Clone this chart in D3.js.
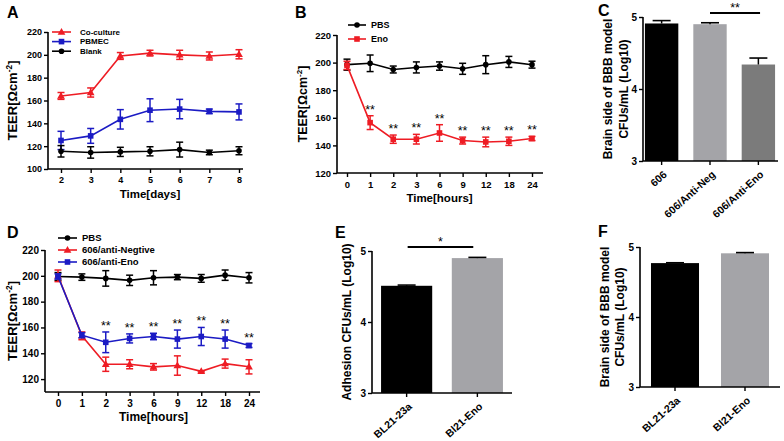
<!DOCTYPE html>
<html><head><meta charset="utf-8">
<script src="https://cdn.jsdelivr.net/npm/d3@7"></script>
<style>
body{margin:0;background:#fff;}
svg{display:block;font-family:"Liberation Sans",Arial,sans-serif;font-weight:bold;}
</style></head>
<body>
<svg id="c" width="784" height="441"></svg>
<script>
// ---------- DATA ----------
const daysA = ["2","3","4","5","6","7","8"];
const coCulture = [164,167,199,201.5,200,199,200.5];
const coCultureErr = [3,4,3,2.5,4,3.5,4];
const pbmec = [125,129,143.5,151.5,152.5,150.5,150];
const pbmecErr = [8,6.5,8.5,10,8.5,2,7];
const blank = [115.5,114.5,115,115.5,117,114.5,116];
const blankErr = [5,5,4,4,6.5,2,3.5];

const hours = ["0","1","2","3","6","9","12","18","24"];
const pbsB = [198.5,199.5,195,196.5,197.5,195.5,198.5,200.5,198.5];
const pbsBErr = [4,6,2.5,4,3,4,6.5,4,2.5];
const enoB = [198,156.5,144.5,144.5,149,143.5,142.5,143,145];
const enoBErr = [3,5,3,3.5,6,2.5,3.5,3,1.5];
const starsB = ["","**","**","**","**","**","**","**","**"];

const pbsD = [199.5,199,198,196.5,198.5,199,198,200.5,198.5];
const pbsDErr = [3,2.5,6,4,5.5,2,3,4,4];
const negD = [200,153.5,131.5,131.5,129.5,130.5,126,132,129.5];
const negDErr = [4.5,3,5.5,3.5,2.5,7.5,0.5,3.5,5.5];
const enoD = [199.5,154,148.5,151.5,153,151,153,151,146];
const enoDErr = [2,2,8,3.5,2.5,7,7,7,1.5];
const starsD = ["","","**","**","**","**","**","**","**"];

const catsC = ["606","606/Anti-Neg","606/Anti-Eno"];
const valsC = [4.91,4.90,4.34];
const errC = [0.04,0.02,0.09];
const catsE = ["BL21-23a","Bl21-Eno"];
const valsE = [4.51,4.90];
const errE = [0.01,0.01];
const catsF = ["BL21-23a","Bl21-Eno"];
const valsF = [4.77,4.91];
const errF = [0.005,0.01];
const ticksTEER_A = [100,120,140,160,180,200,220];
const ticksTEER_BD = [120,140,160,180,200,220];
const ticksLog = [3,4,5];

const RED="#ee1c24", BLUE="#1b1bc4", BLACK="#000", GRAY1="#a4a4a8", GRAY2="#7b7b7b";

const svg = d3.select("#c");

function panelLetter(t,x,y){
  svg.append("text").attr("x",x).attr("y",y).attr("font-size",16).text(t);
}
function teerLabel(x,y,fs){
  const t = svg.append("text").attr("transform",`translate(${x},${y}) rotate(-90)`)
    .attr("text-anchor","middle").attr("font-size",fs);
  t.append("tspan").text("TEER[Ωcm");
  t.append("tspan").attr("dy",-5).attr("font-size",fs*0.65).text("-2");
  t.append("tspan").attr("dy",5).text("]");
}

function marker(g,shape,x,y,color){
  if(shape==="circle") g.append("circle").attr("cx",x).attr("cy",y).attr("r",2.8).attr("fill",color);
  else if(shape==="square") g.append("rect").attr("x",x-2.8).attr("y",y-2.8).attr("width",5.6).attr("height",5.6).attr("fill",color);
  else g.append("path").attr("d",d3.symbol(d3.symbolTriangle,26)()).attr("transform",`translate(${x},${y+0.5})`).attr("fill",color);
}

function linePanel(o){
  const x = d3.scalePoint().domain(o.cats).range(o.xr);
  const y = d3.scaleLinear().domain(o.yd).range(o.yr);
  const g = svg.append("g");
  g.append("line").attr("x1",o.left).attr("x2",o.right).attr("y1",o.yr[0]).attr("y2",o.yr[0]).attr("stroke","#000").attr("stroke-width",1.6);
  g.append("line").attr("x1",o.left).attr("x2",o.left).attr("y1",o.yr[0]).attr("y2",y(o.yticks[o.yticks.length-1])).attr("stroke","#000").attr("stroke-width",1.6);
  const xa = g.append("g").attr("transform",`translate(0,${o.yr[0]})`)
    .call(d3.axisBottom(x).tickSize(4).tickPadding(4));
  xa.select(".domain").remove();
  xa.selectAll("line").attr("stroke-width",1.4);
  xa.selectAll("text").attr("font-size",o.fs.tick).attr("font-family","Liberation Sans, Arial").attr("font-weight","bold");
  const ya = g.append("g").attr("transform",`translate(${o.left},0)`)
    .call(d3.axisLeft(y).tickValues(o.yticks).tickSize(4).tickPadding(2));
  ya.select(".domain").remove();
  ya.selectAll("line").attr("stroke-width",1.4);
  ya.selectAll("text").attr("font-size",o.fs.tick).attr("font-family","Liberation Sans, Arial").attr("font-weight","bold");
  o.series.forEach(s=>{
    const line = d3.line().x((d,i)=>x(o.cats[i])).y(d=>y(d));
    g.append("path").attr("d",line(s.v)).attr("fill","none").attr("stroke",s.c).attr("stroke-width",1.6);
    s.v.forEach((v,i)=>{
      const cx=x(o.cats[i]); const e=s.e[i];
      g.append("line").attr("x1",cx).attr("x2",cx).attr("y1",y(v-e)).attr("y2",y(v+e)).attr("stroke",s.c).attr("stroke-width",1.5);
      [v-e,v+e].forEach(w=>g.append("line").attr("x1",cx-3.5).attr("x2",cx+3.5).attr("y1",y(w)).attr("y2",y(w)).attr("stroke",s.c).attr("stroke-width",1.5));
      marker(g,s.m,cx,y(v),s.c);
      if(s.stars && s.stars[i]) g.append("text").attr("x",cx).attr("y",y(v+e)-2).attr("text-anchor","middle").attr("font-size",12.5).attr("font-weight","normal").text(s.stars[i]);
    });
  });
  o.legend.forEach((s,i)=>{
    const ly = o.leg.y + i*o.leg.dy;
    g.append("line").attr("x1",o.leg.x1).attr("x2",o.leg.x2).attr("y1",ly).attr("y2",ly).attr("stroke",s.c).attr("stroke-width",1.6);
    marker(g,s.m,(o.leg.x1+o.leg.x2)/2,ly,s.c);
    g.append("text").attr("x",o.leg.tx).attr("y",ly+o.fs.leg*0.36).attr("font-size",o.fs.leg).text(s.name);
  });
  svg.append("text").attr("x",(o.xr[0]+o.xr[1])/2).attr("y",o.yr[0]+29).attr("text-anchor","middle").attr("font-size",o.fs.xt).text(o.xtitle);
  teerLabel(o.ytx,(o.yr[0]+y(o.yticks[o.yticks.length-1]))/2,o.fs.yt);
}

function barPanel(o){
  const x = d3.scaleBand().domain(o.cats).range(o.xr).paddingInner(o.pi).paddingOuter(o.po);
  const y = d3.scaleLinear().domain([3,5]).range(o.yr);
  const g = svg.append("g");
  o.vals.forEach((v,i)=>{
    const bx=x(o.cats[i]), bw=x.bandwidth(), cx=bx+bw/2;
    g.append("rect").attr("x",bx).attr("y",y(v)).attr("width",bw).attr("height",y(3)-y(v)).attr("fill",o.colors[i]);
    g.append("line").attr("x1",cx).attr("x2",cx).attr("y1",y(v)).attr("y2",y(v+o.err[i])).attr("stroke","#000").attr("stroke-width",1.5);
    g.append("line").attr("x1",cx-o.cap).attr("x2",cx+o.cap).attr("y1",y(v+o.err[i])).attr("y2",y(v+o.err[i])).attr("stroke","#000").attr("stroke-width",1.6);
    g.append("text").attr("transform",`translate(${cx+1},${o.yr[0]+9}) rotate(-42)`).attr("text-anchor","end").attr("dy","0.7em").attr("font-size",10.5).text(o.cats[i]);
    g.append("line").attr("x1",cx).attr("x2",cx).attr("y1",o.yr[0]).attr("y2",o.yr[0]+4).attr("stroke","#000").attr("stroke-width",1.4);
  });
  g.append("line").attr("x1",o.left).attr("x2",o.right).attr("y1",o.yr[0]).attr("y2",o.yr[0]).attr("stroke","#000").attr("stroke-width",1.6);
  g.append("line").attr("x1",o.left).attr("x2",o.left).attr("y1",o.yr[0]).attr("y2",o.yr[1]).attr("stroke","#000").attr("stroke-width",1.6);
  const ya = g.append("g").attr("transform",`translate(${o.left},0)`)
    .call(d3.axisLeft(y).tickValues(ticksLog).tickFormat(d3.format("d")).tickSize(4).tickPadding(2));
  ya.select(".domain").remove();
  ya.selectAll("line").attr("stroke-width",1.4);
  ya.selectAll("text").attr("font-size",10).attr("font-family","Liberation Sans, Arial").attr("font-weight","bold");
  const cy=(o.yr[0]+o.yr[1])/2;
  o.ytitle.forEach((t,i)=>{
    svg.append("text").attr("transform",`translate(${o.ytx[i]},${cy}) rotate(-90)`).attr("text-anchor","middle").attr("dy","0.35em").attr("font-size",12).text(t);
  });
  if(o.sig){
    const a=x(o.cats[o.sig.a])+x.bandwidth()*o.sig.fa, b=x(o.cats[o.sig.b])+x.bandwidth()*o.sig.fb;
    g.append("line").attr("x1",a).attr("x2",b).attr("y1",o.sig.y).attr("y2",o.sig.y).attr("stroke","#000").attr("stroke-width",1.8);
    g.append("text").attr("x",(a+b)/2).attr("y",o.sig.y-1).attr("text-anchor","middle").attr("font-size",12.5).attr("font-weight","normal").text(o.sig.t);
  }
}

// ---------- A ----------
panelLetter("A",7,18);
linePanel({cats:daysA, xr:[61,239], left:48, right:243, yd:[100,220], yr:[169,32], yticks:ticksTEER_A,
  fs:{tick:9,leg:8,xt:11.5,yt:13},
  series:[{v:coCulture,e:coCultureErr,c:RED,m:"tri"},{v:pbmec,e:pbmecErr,c:BLUE,m:"square"},{v:blank,e:blankErr,c:BLACK,m:"circle"}],
  legend:[{name:"Co-culture",c:RED,m:"tri"},{name:"PBMEC",c:BLUE,m:"square"},{name:"Blank",c:BLACK,m:"circle"}],
  leg:{x1:52,x2:71,tx:80,y:32,dy:9.6}, xtitle:"Time[days]", ytx:17});

// ---------- B ----------
panelLetter("B",295,18);
linePanel({cats:hours, xr:[347,532], left:337, right:543, yd:[120,220], yr:[173,35], yticks:ticksTEER_BD,
  fs:{tick:9.5,leg:9,xt:11.5,yt:12.5},
  series:[{v:pbsB,e:pbsBErr,c:BLACK,m:"circle"},{v:enoB,e:enoBErr,c:RED,m:"square",stars:starsB}],
  legend:[{name:"PBS",c:BLACK,m:"circle"},{name:"Eno",c:RED,m:"square"}],
  leg:{x1:348,x2:366,tx:371,y:25,dy:14}, xtitle:"Time[hours]", ytx:307});

// ---------- D ----------
panelLetter("D",7,238);
linePanel({cats:hours, xr:[58,249], left:45, right:260, yd:[110,220], yr:[392,250], yticks:ticksTEER_BD,
  fs:{tick:10,leg:9.5,xt:12,yt:13},
  series:[{v:pbsD,e:pbsDErr,c:BLACK,m:"circle"},{v:negD,e:negDErr,c:RED,m:"tri"},{v:enoD,e:enoDErr,c:BLUE,m:"square",stars:starsD}],
  legend:[{name:"PBS",c:BLACK,m:"circle"},{name:"606/anti-Negtive",c:RED,m:"tri"},{name:"606/anti-Eno",c:BLUE,m:"square"}],
  leg:{x1:58,x2:77,tx:82,y:238,dy:12}, xtitle:"Time[hours]", ytx:17});

// ---------- C ----------
panelLetter("C",598,16);
barPanel({cats:catsC, vals:valsC, err:errC, colors:[BLACK,GRAY1,GRAY2], xr:[643,777], pi:0.31, po:0.04,
  left:643, right:778, yr:[161,17], cap:9, ytitle:["Brain side of BBB model","CFUs/mL (Log10)"], ytx:[608,624],
  sig:{a:1,b:2,fa:0.5,fb:0.55,y:13,t:"**"}});

// ---------- E ----------
panelLetter("E",335,238);
barPanel({cats:catsE, vals:valsE, err:errE, colors:[BLACK,GRAY1], xr:[372,512], pi:0.277, po:0.128,
  left:372, right:512, yr:[393,251], cap:9, ytitle:["Adhesion CFUs/mL (Log10)"], ytx:[347],
  sig:{a:0,b:1,fa:0.52,fb:0.42,y:247,t:"*"}});

// ---------- F ----------
panelLetter("F",598,237);
barPanel({cats:catsF, vals:valsF, err:errF, colors:[BLACK,GRAY1], xr:[640,780], pi:0.314, po:0.157,
  left:640, right:780, yr:[387,247], cap:9, ytitle:["Brain side of BBB model","CFUs/mL (Log10)"], ytx:[605,620]});
</script>
</body></html>
